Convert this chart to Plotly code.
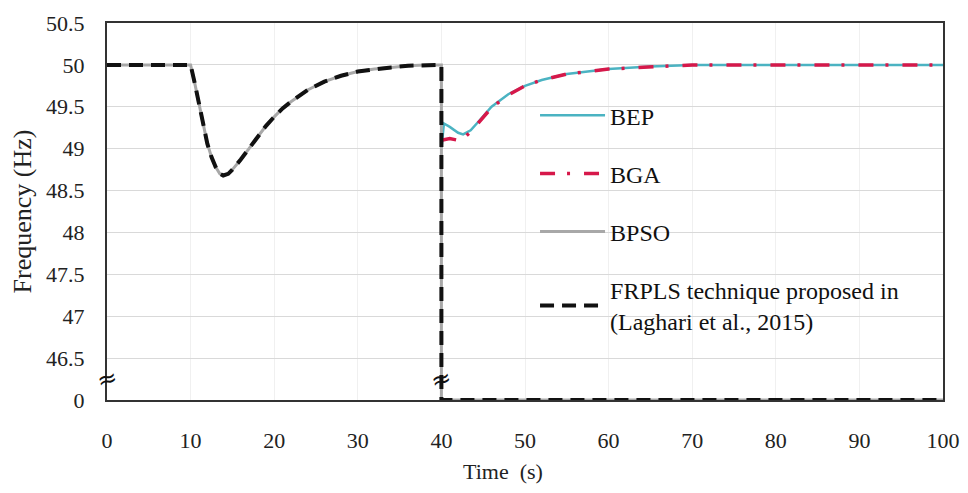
import plotly.graph_objects as go

# ---- data (actual frequency values, Hz) ----
t_pre = [0, 10, 10.5, 11, 11.5, 12, 12.5, 13, 13.5, 13.9, 14.5, 15, 16, 17, 18, 19, 20, 21, 22, 24, 26, 28, 30, 32, 34, 36, 38, 40, 40, 45, 50, 60, 70, 80, 90, 100]
f_pre = [50, 50, 49.78, 49.53, 49.28, 49.06, 48.9, 48.78, 48.7, 48.68, 48.7, 48.75, 48.87, 49.0, 49.14, 49.27, 49.38, 49.48, 49.56, 49.7, 49.8, 49.87, 49.92, 49.95, 49.97, 49.99, 50, 50, 0, 0, 0, 0, 0, 0, 0, 0]

t_bep = [40, 40.3, 41, 42, 42.6, 43.5, 44.5, 46, 48, 50, 52, 55, 60, 65, 70, 80, 90, 100]
f_bep = [49.0, 49.3, 49.26, 49.19, 49.17, 49.22, 49.33, 49.5, 49.65, 49.75, 49.82, 49.89, 49.95, 49.98, 50, 50, 50, 50]

t_bga = [40, 41, 42, 42.6, 43.5, 44.5, 46, 48, 50, 52, 55, 60, 65, 70, 80, 90, 100]
f_bga = [49.1, 49.12, 49.1, 49.12, 49.2, 49.32, 49.49, 49.64, 49.75, 49.82, 49.89, 49.95, 49.98, 50, 50, 50, 50]

y_tickvals = [46, 46.5, 47, 47.5, 48, 48.5, 49, 49.5, 50, 50.5]
y_ticktext = ["0", "46.5", "47", "47.5", "48", "48.5", "49", "49.5", "50", "50.5"]
x_ticks = [0, 10, 20, 30, 40, 50, 60, 70, 80, 90, 100]


def to_axis(v):
    # broken axis: values below 46.5 are drawn in the bottom band (0 -> 46)
    return v if v >= 46.5 else 46.0 + v * (0.5 / 46.5)


FONT = "'Liberation Serif', 'Times New Roman', 'DejaVu Serif', serif"
fig = go.Figure()

fig.add_trace(go.Scatter(x=t_bep, y=[to_axis(v) for v in f_bep], mode="lines", name="BEP",
                         line=dict(color="#4bb3c2", width=2.5), legendgroup="a", legendrank=1))
fig.add_trace(go.Scatter(x=t_pre, y=[to_axis(v) for v in f_pre], mode="lines", name="BPSO",
                         line=dict(color="#a8a8a8", width=3), legendgroup="c", legendrank=3))
fig.add_trace(go.Scatter(x=t_bga, y=[to_axis(v) for v in f_bga], mode="lines", name="BGA",
                         line=dict(color="#d6184a", width=3.5, dash="15px,12px,3px,14px"),
                         legendgroup="b", legendrank=2))
fig.add_trace(go.Scatter(x=t_pre, y=[to_axis(v) for v in f_pre], mode="lines",
                         name="FRPLS technique proposed in<br>(Laghari et al., 2015)",
                         line=dict(color="#111111", width=4, dash="14px,8px"), legendgroup="d", legendrank=4))

for xb in [0, 40]:
    fig.add_annotation(x=xb, y=46.25, text="≈", showarrow=False, textangle=-15,
                       font=dict(family="DejaVu Sans", size=24, color="#111111"))

fig.add_annotation(xref="paper", yref="paper", x=0.474, y=-0.19, text="Time  (s)",
                   showarrow=False, xanchor="center", yanchor="middle",
                   font=dict(family=FONT, size=22, color="#222222"))

fig.update_layout(
    width=952, height=477,
    margin=dict(l=99, r=17, t=15, b=85, autoexpand=False),
    paper_bgcolor="white", plot_bgcolor="white",
    font=dict(family=FONT, size=22, color="#222222"),
    legend=dict(x=0.512, y=0.814, xanchor="left", yanchor="top", bgcolor="rgba(0,0,0,0)",
                font=dict(family=FONT, size=24, color="#111111"), tracegroupgap=24,
                itemwidth=65, traceorder="grouped"),
    showlegend=True,
)
fig.update_xaxes(range=[0, 100], tickvals=x_ticks, ticks="", showline=True, linecolor="#333333",
                 linewidth=2, mirror=True, showgrid=True, gridcolor="#f0f0f0", zeroline=False,
                 automargin=False, ticklabelstandoff=20)
fig.update_yaxes(range=[46, 50.5], tickvals=y_tickvals, ticktext=y_ticktext, ticks="", showline=True,
                 linecolor="#333333", linewidth=2, mirror=True, showgrid=True, gridcolor="#d9d9d9",
                 zeroline=False, automargin=False, ticklabelstandoff=16,
                 title=dict(text="Frequency (Hz)", font=dict(size=26), standoff=12))

fig.write_html("out.html")
